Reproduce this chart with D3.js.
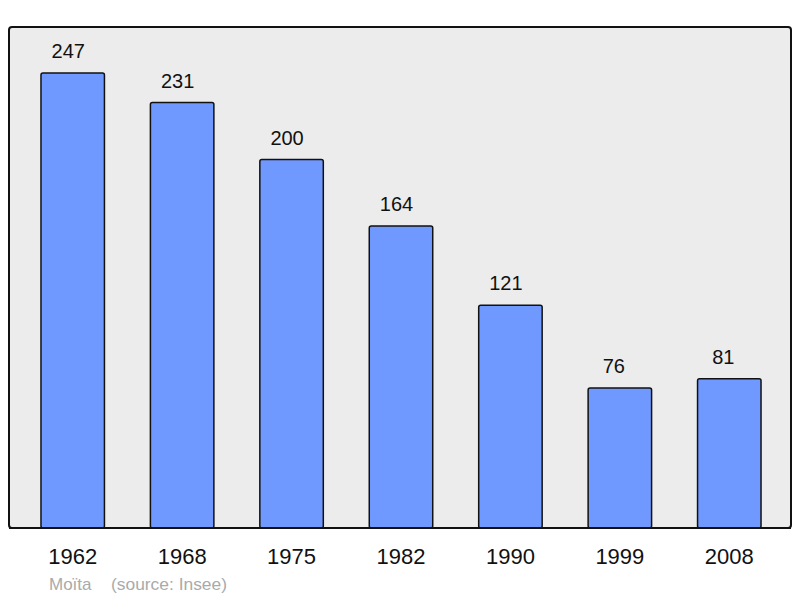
<!DOCTYPE html>
<html>
<head>
<meta charset="utf-8">
<script src="https://cdn.jsdelivr.net/npm/d3@7"></script>
<style>
  body { margin: 0; background: #fff; }
  text { font-family: "Liberation Sans", Arial, sans-serif; }
</style>
</head>
<body>
<div id="chart"></div>
<script>
const years = ["1962", "1968", "1975", "1982", "1990", "1999", "2008"]
const population = [247, 231, 200, 164, 121, 76, 81]
const commune = "Moïta"
const source = "(source: Insee)"

const WIDTH = 800
const HEIGHT = 598
const PANEL = {LEFT: 9, TOP: 27, RIGHT: 791, BOTTOM: 528}

const svg = d3.select("#chart")
  .append("svg")
    .attr("width", WIDTH)
    .attr("height", HEIGHT)

svg.append("rect")
  .attr("x", PANEL.LEFT)
  .attr("y", PANEL.TOP)
  .attr("width", PANEL.RIGHT - PANEL.LEFT)
  .attr("height", PANEL.BOTTOM - PANEL.TOP)
  .attr("rx", 3)
  .attr("fill", "#ececec")
  .attr("stroke", "#111")
  .attr("stroke-width", 2)

const x = d3.scaleBand()
  .domain(years)
  .range([18, 784])
  .paddingInner(0.42)
  .paddingOuter(0.21)

const y = d3.scaleLinear()
  .domain([0, 272])
  .range([PANEL.BOTTOM, PANEL.TOP])

const data = years.map((yr, i) => ({year: yr, value: population[i]}))

svg.selectAll("rect.bar")
  .data(data)
  .enter().append("rect")
    .attr("class", "bar")
    .attr("x", d => x(d.year))
    .attr("y", d => y(d.value))
    .attr("width", x.bandwidth())
    .attr("height", d => y(0) - y(d.value))
    .attr("rx", 2)
    .attr("fill", "#7099ff")
    .attr("stroke", "#111")
    .attr("stroke-width", 1.5)

// value labels sit a little left of the bar centre, as in the original
svg.selectAll("text.value")
  .data(data)
  .enter().append("text")
    .attr("class", "value")
    .attr("x", d => x(d.year) + x.bandwidth() / 2 - (d.value < 100 ? 6 : 4.5))
    .attr("y", d => y(d.value) - 15)
    .attr("text-anchor", "middle")
    .attr("font-size", 20)
    .attr("fill", "#111")
    .text(d => d.value)

// redraw the panel's bottom edge over the bars
svg.append("line")
  .attr("x1", PANEL.LEFT)
  .attr("x2", PANEL.RIGHT)
  .attr("y1", PANEL.BOTTOM)
  .attr("y2", PANEL.BOTTOM)
  .attr("stroke", "#111")
  .attr("stroke-width", 2)

const xAxis = svg.append("g")
  .attr("transform", `translate(0, ${PANEL.BOTTOM})`)
  .call(d3.axisBottom(x).tickSize(0).tickPadding(0))

xAxis.select(".domain").remove()
xAxis.selectAll("text")
  .attr("y", 36)
  .attr("dy", 0)
  .attr("font-size", 22)
  .attr("font-family", "Liberation Sans, Arial, sans-serif")
  .attr("fill", "#111")

svg.append("text")
  .attr("x", 49)
  .attr("y", 590)
  .attr("font-size", 17)
  .attr("fill", "#aaa")
  .text(commune)

svg.append("text")
  .attr("x", 111)
  .attr("y", 590)
  .attr("font-size", 17.4)
  .attr("fill", "#aaa")
  .text(source)
</script>
</body>
</html>
